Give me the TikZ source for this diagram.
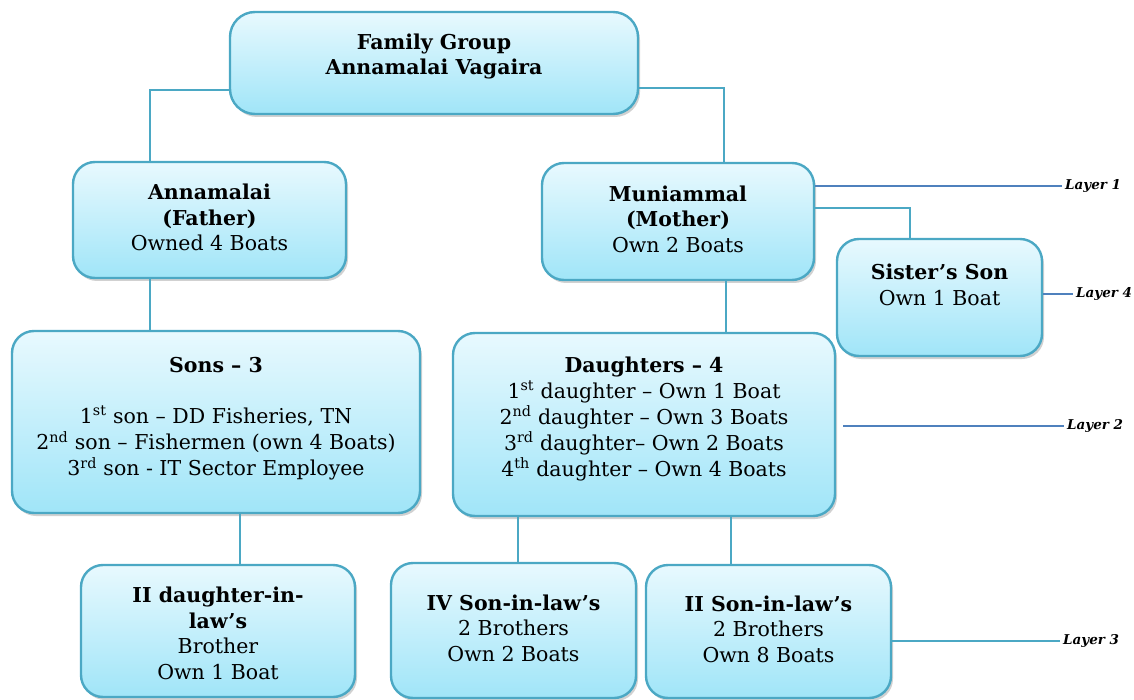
\documentclass[tikz,border=0pt]{standalone}
\usepackage{fontspec}
\setmainfont{DejaVu Serif}
\usetikzlibrary{positioning,shadows}

\definecolor{boxline}{RGB}{75,168,196}
\definecolor{boxtop}{RGB}{232,249,254}
\definecolor{boxbot}{RGB}{160,229,248}
\definecolor{layerline}{RGB}{79,129,189}

% centred lines, lifted a little inside the box
\newcommand{\famtext}[2][0pt]{\raisebox{#1}[\height][\depth]{\begin{tabular}{@{}c@{}}#2\end{tabular}}}

\tikzset{
  famblock/.style={rectangle, rounded corners=22pt, draw=boxline, line width=2.4pt,
    top color=boxtop, bottom color=boxbot, inner sep=0pt,
    drop shadow={shadow xshift=2pt, shadow yshift=-3pt, opacity=0.3, fill=black!60},
    font=\fontsize{20.5}{25.5}\selectfont},
  link/.style={draw=boxline, line width=2pt},
  layerlink/.style={draw=layerline, line width=1.6pt},
  layerlbl/.style={font=\fontsize{13.5}{16}\selectfont\bfseries\itshape, inner sep=3pt, anchor=west},
}

\begin{document}
\begin{tikzpicture}[x=1pt, y=-1pt]
    \useasboundingbox (0,0) rectangle (1134,700);

    % family boxes
    \node (top) [famblock, rounded corners=25pt, minimum width=408pt, minimum height=102pt] at (434,63)
        {\famtext[6pt]{\textbf{Family Group}\\\textbf{Annamalai Vagaira}}};
    \node (anna) [famblock, minimum width=273pt, minimum height=116pt] at (209.5,220)
        {\famtext[0pt]{\textbf{Annamalai}\\\textbf{(Father)}\\Owned 4 Boats}};
    \node (muni) [famblock, minimum width=272pt, minimum height=117pt] at (678,221.5)
        {\famtext[0pt]{\textbf{Muniammal}\\\textbf{(Mother)}\\Own 2 Boats}};
    \node (sis) [famblock, minimum width=205pt, minimum height=117pt] at (939.5,297.5)
        {\famtext[10pt]{\textbf{Sister’s Son}\\Own 1 Boat}};
    \node (sons) [famblock, minimum width=408pt, minimum height=182pt] at (216,422)
        {\famtext[3pt]{\textbf{Sons – 3}\\[25.5pt]
         1\textsuperscript{st} son – DD Fisheries, TN\\
         2\textsuperscript{nd} son – Fishermen (own 4 Boats)\\
         3\textsuperscript{rd} son - IT Sector Employee}};
    \node (dau) [famblock, minimum width=382pt, minimum height=183pt] at (644,424.5)
        {\famtext[5pt]{\textbf{Daughters – 4}\\
         1\textsuperscript{st} daughter – Own 1 Boat\\
         2\textsuperscript{nd} daughter – Own 3 Boats\\
         3\textsuperscript{rd} daughter– Own 2 Boats\\
         4\textsuperscript{th} daughter – Own 4 Boats}};
    \node (dil) [famblock, minimum width=274pt, minimum height=132pt] at (218,631)
        {\famtext[-5pt]{\textbf{II daughter-in-}\\\textbf{law’s}\\Brother\\Own 1 Boat}};
    \node (silfour) [famblock, minimum width=245pt, minimum height=135pt] at (513.5,630.5)
        {\famtext{\textbf{IV Son-in-law’s}\\2 Brothers\\Own 2 Boats}};
    \node (siltwo) [famblock, minimum width=245pt, minimum height=133pt] at (768.5,631.5)
        {\famtext{\textbf{II Son-in-law’s}\\2 Brothers\\Own 8 Boats}};

    % connectors
    \coordinate (jl) at (150,90);
    \coordinate (jr) at (724,88);
    \coordinate (jm) at (726,0);
    \coordinate (js) at (910,208);
    \coordinate (jd) at (240,0);
    \coordinate (jf) at (518,0);
    \coordinate (jt) at (731,0);
    \draw[link] (top.west |- jl) -| (anna.north -| jl);
    \draw[link] (top.east |- jr) -| (muni.north -| jr);
    \draw[link] (anna.south -| jl) -- (sons.north -| jl);
    \draw[link] (muni.south -| jm) -- (dau.north -| jm);
    \draw[link] (muni.east |- js) -| (sis.north -| js);
    \draw[link] (sons.south -| jd) -- (dil.north -| jd);
    \draw[link] (dau.south -| jf) -- (silfour.north -| jf);
    \draw[link] (dau.south -| jt) -- (siltwo.north -| jt);

    % layers
    \node (lay1) [layerlbl] at (1062,186) {Layer 1};
    \node (lay4) [layerlbl] at (1073,294) {Layer 4};
    \node (lay2) [layerlbl] at (1064,426) {Layer 2};
    \node (lay3) [layerlbl] at (1060,641) {Layer 3};
    \draw[layerlink] (muni.east |- lay1) -- (lay1.west);
    \draw[layerlink] (sis.east |- lay4) -- (lay4.west);
    \draw[layerlink] ([xshift=7pt]dau.east |- lay2) -- (lay2.west);
    \draw[link] (siltwo.east |- lay3) -- (lay3.west);
\end{tikzpicture}
\end{document}
